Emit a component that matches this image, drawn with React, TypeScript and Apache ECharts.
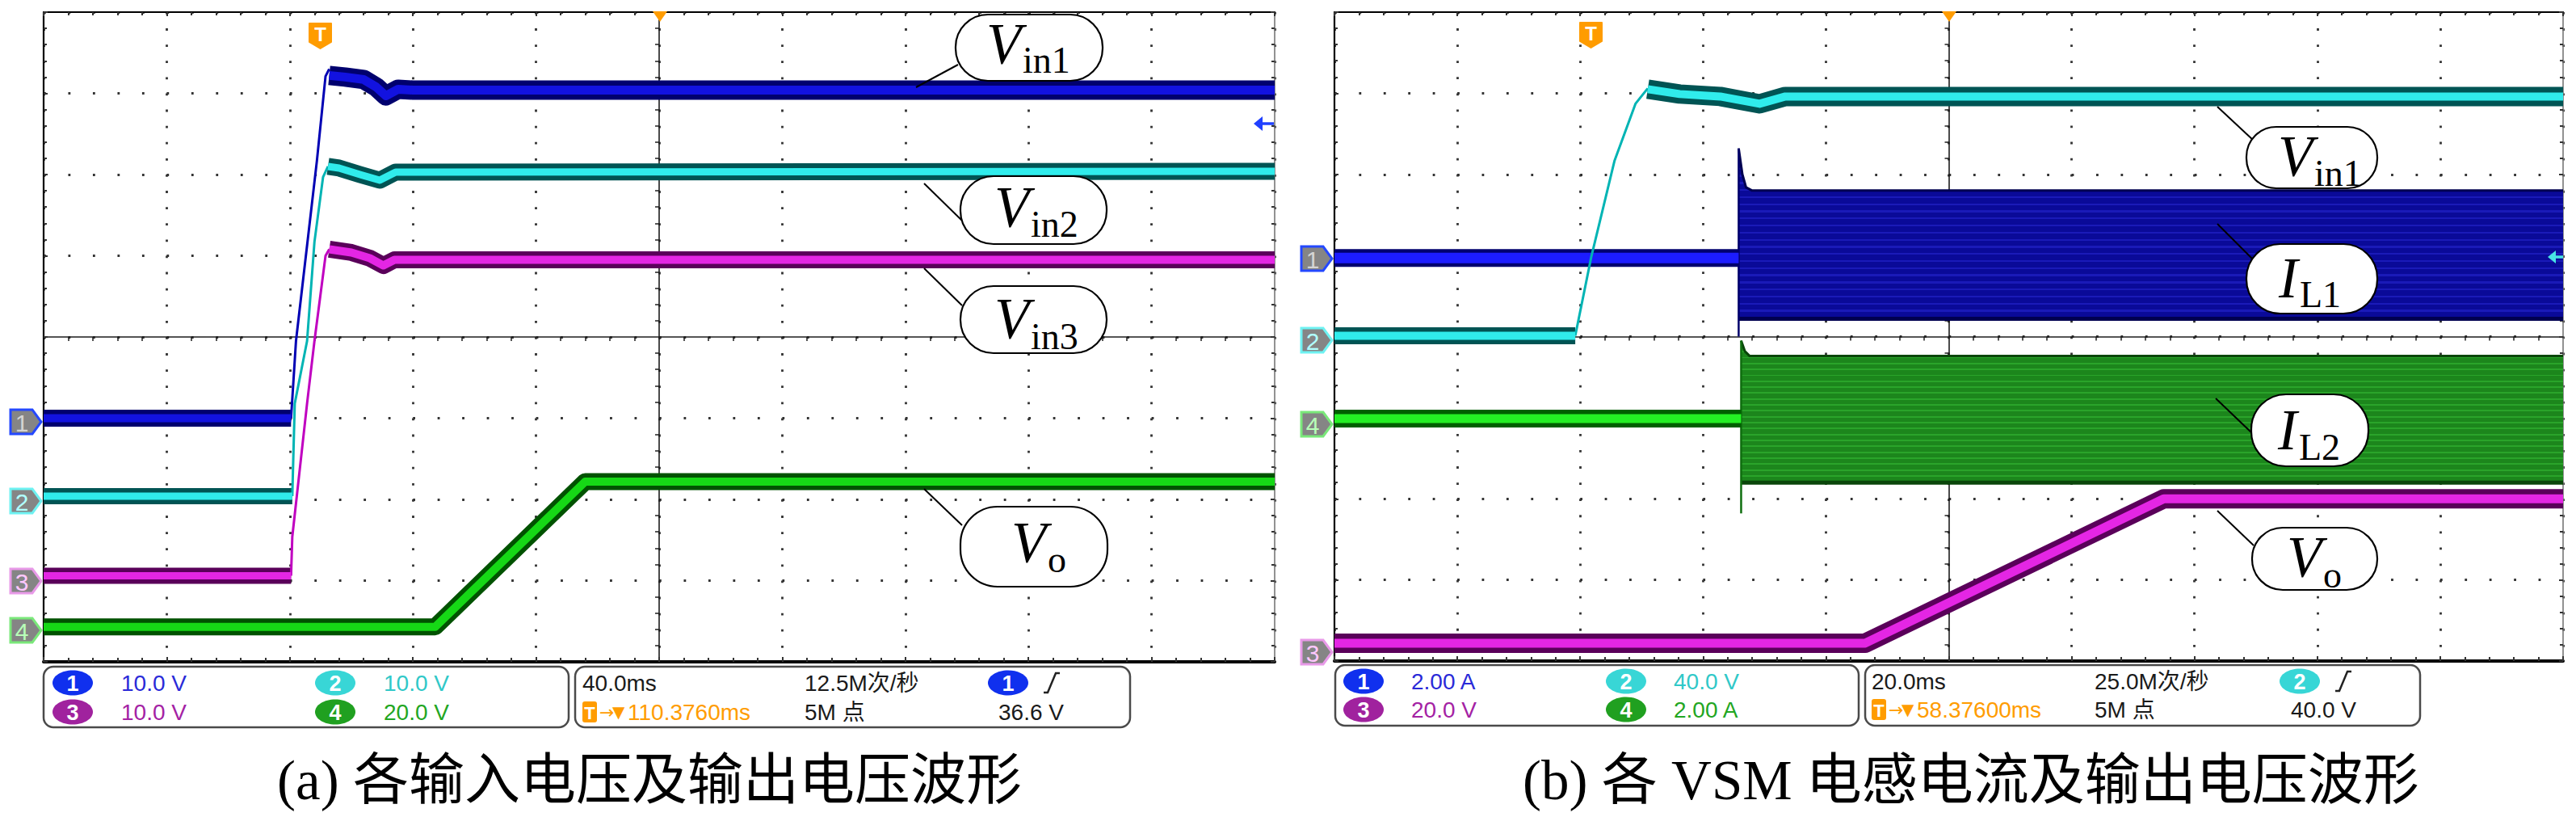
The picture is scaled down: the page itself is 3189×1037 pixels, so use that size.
import React, { useEffect, useRef } from "react";
import * as echarts from "echarts";

const WIDTH = 3189;
const HEIGHT = 1037;

// ---------- Panel (a): input voltages and output voltage (x, y in scope divisions) ----------
const A_VIN1_FLAT0 = [[-5, -1.0], [-2.99, -1.0]];
const A_VIN1_RISE = [[-2.99, -1.0], [-2.95, -0.05], [-2.78, 2.17], [-2.71, 3.21], [-2.68, 3.3]];
const A_VIN1_SETTLE = [[-2.68, 3.22], [-2.55, 3.2], [-2.4, 3.17], [-2.3, 3.08], [-2.22, 2.97], [-2.12, 3.05], [-2.0, 3.04], [5, 3.04]];
const A_VIN2_FLAT0 = [[-5, -1.96], [-2.98, -1.96]];
const A_VIN2_RISE = [[-2.98, -1.96], [-2.96, -0.82], [-2.86, -0.05], [-2.8, 1.17], [-2.73, 1.97], [-2.69, 2.1]];
const A_VIN2_SETTLE = [[-2.69, 2.1], [-2.6, 2.08], [-2.43, 2.0], [-2.27, 1.93], [-2.14, 2.03], [5, 2.04]];
const A_VIN3_FLAT0 = [[-5, -2.94], [-2.99, -2.94]];
const A_VIN3_RISE = [[-2.99, -2.94], [-2.98, -2.46], [-2.86, -0.82], [-2.8, -0.05], [-2.71, 1.0], [-2.68, 1.08]];
const A_VIN3_SETTLE = [[-2.68, 1.08], [-2.5, 1.04], [-2.35, 0.97], [-2.24, 0.88], [-2.15, 0.95], [5, 0.95]];
const A_VO = [[-5, -3.57], [-1.82, -3.57], [-0.6, -1.78], [5, -1.78]];

// ---------- Panel (b): VSM inductor currents and output voltage ----------
const B_VIN1_FLAT0 = [[-5, 0.01], [-3.04, 0.01]];
const B_VIN1_RISE = [[-3.04, 0.01], [-2.91, 0.98], [-2.72, 2.17], [-2.55, 2.87], [-2.45, 3.06]];
const B_VIN1_SETTLE = [[-2.45, 3.05], [-2.19, 2.99], [-1.86, 2.96], [-1.54, 2.87], [-1.33, 2.96], [5, 2.96]];
const B_IL1_IDLE = [[-5, 0.97], [-1.71, 0.97]];
const B_IL1_SPIKE = [[-1.71, 2.32], [-1.71, -0.0]];
const B_IL1_UPPER = [[-1.71, 2.32], [-1.68, 2.0], [-1.65, 1.84], [-1.6, 1.8], [5, 1.8]];
const B_IL1_LOWER = [[-1.71, 0.22], [5, 0.22]];
const B_IL1_FLOOR = 0.22;
const B_IL2_IDLE = [[-5, -1.01], [-1.69, -1.01]];
const B_IL2_SPIKE = [[-1.69, -0.05], [-1.69, -2.18]];
const B_IL2_UPPER = [[-1.69, -0.05], [-1.66, -0.18], [-1.62, -0.24], [5, -0.24]];
const B_IL2_LOWER = [[-1.69, -1.8], [5, -1.8]];
const B_IL2_FLOOR = -1.8;
const B_VO = [[-5, -3.78], [-0.68, -3.78], [1.75, -2.0], [5, -2.0]];

// ---------- Scope readouts ----------
const A_CH_SCALES = ["10.0 V", "10.0 V", "10.0 V", "20.0 V"];
const A_TIMEBASE = "40.0ms";
const A_TRIG_POS = "110.3760ms";
const A_RATE = "12.5M次/秒";
const A_POINTS = "5M 点";
const A_TRIG_CH = "1";
const A_TRIG_LEVEL = "36.6 V";
const B_CH_SCALES = ["2.00 A", "40.0 V", "20.0 V", "2.00 A"];
const B_TIMEBASE = "20.0ms";
const B_TRIG_POS = "58.37600ms";
const B_RATE = "25.0M次/秒";
const B_POINTS = "5M 点";
const B_TRIG_CH = "2";
const B_TRIG_LEVEL = "40.0 V";
const CAPTION_A = "(a) 各输入电压及输出电压波形";
const CAPTION_B = "(b) 各 VSM 电感电流及输出电压波形";

const CH = {
  1: { dark: "#00006e", bright: "#1212e0", thin: "#0000b4", badge: "#1030ee", text: "#2a2ad8", mark: "#2448ff", digit: "#d4d4d4" },
  2: { dark: "#005454", bright: "#30ecec", thin: "#00b4b4", badge: "#38d6d6", text: "#30c8c8", mark: "#6ef2f2", digit: "#b0ffff" },
  3: { dark: "#5a005a", bright: "#e426e4", thin: "#c000c0", badge: "#a0229e", text: "#a422a4", mark: "#e89ae8", digit: "#ffc8ff" },
  4: { dark: "#005200", bright: "#16d816", thin: "#0a9a0a", badge: "#20a020", text: "#22a622", mark: "#7ae87a", digit: "#b8ffb8" },
};

const GRIDS = [
  { left: 54, top: 15, width: 1524, height: 804 },
  { left: 1652, top: 15, width: 1521, height: 803 },
];

const SANS = '"Liberation Sans", "Noto Sans CJK SC", sans-serif';
const SERIF = '"Liberation Serif", "Noto Sans CJK SC", serif';

function stripes(dark: string, light: string, n: number) {
  const stops: any[] = [];
  for (let i = 0; i < n; i++) {
    const a = i / n, b = (i + 0.74) / n, c = (i + 1) / n;
    stops.push({ offset: a, color: dark }, { offset: b, color: dark }, { offset: b, color: light }, { offset: c, color: light });
  }
  return new echarts.graphic.LinearGradient(0, 0, 0, 1, stops);
}

function buildAxes() {
  const xAxis: any[] = [];
  const yAxis: any[] = [];
  GRIDS.forEach((g, gi) => {
    const stepY = g.height / 40;
    const stepX = g.width / 50;
    const base = { gridIndex: gi, type: "value", axisLabel: { show: false } };
    xAxis.push({
      ...base, min: -5, max: 5, interval: 1, position: "bottom",
      axisLine: { show: true, onZero: true, lineStyle: { color: "#1c1c1c", width: 1.6 } },
      axisTick: { show: false },
      minorTick: { show: true, splitNumber: 5, length: 5, lineStyle: { color: "#1c1c1c", width: 1.5 } },
      splitLine: { show: true, lineStyle: { color: "#333", width: 2.8, type: [2.8, stepY - 2.8], cap: "butt" } },
    });
    xAxis.push({
      ...base, min: -5, max: 5, interval: 1, position: "top", offset: 0,
      axisLine: { show: true, onZero: false, lineStyle: { color: "#000", width: 2.2 } },
      axisTick: { show: true, inside: true, length: 5, lineStyle: { color: "#333", width: 2 } },
      minorTick: { show: true, splitNumber: 5, length: 4, lineStyle: { color: "#333", width: 2 } },
      splitLine: { show: false },
    });
    xAxis.push({
      ...base, min: -5, max: 5, interval: 1, position: "bottom", offset: 0,
      axisLine: { show: true, onZero: false, lineStyle: { color: "#000", width: 4 } },
      axisTick: { show: true, inside: true, length: 6, lineStyle: { color: "#333", width: 2 } },
      minorTick: { show: true, splitNumber: 5, length: 5, lineStyle: { color: "#333", width: 2 } },
      splitLine: { show: false },
    });
    yAxis.push({
      ...base, min: -4, max: 4, interval: 1, position: "left",
      axisLine: { show: true, onZero: true, lineStyle: { color: "#1c1c1c", width: 1.6 } },
      axisTick: { show: false },
      minorTick: { show: true, splitNumber: 5, length: 5, lineStyle: { color: "#1c1c1c", width: 1.5 } },
      splitLine: { show: true, lineStyle: { color: "#333", width: 2.8, type: [2.8, stepX - 2.8], cap: "butt" } },
    });
    yAxis.push({
      ...base, min: -4, max: 4, interval: 1, position: "left", offset: 0,
      axisLine: { show: true, onZero: false, lineStyle: { color: "#000", width: 2.2 } },
      axisTick: { show: true, inside: true, length: 5, lineStyle: { color: "#333", width: 2 } },
      minorTick: { show: true, splitNumber: 5, length: 4, lineStyle: { color: "#333", width: 2 } },
      splitLine: { show: false },
    });
    yAxis.push({
      ...base, min: -4, max: 4, interval: 1, position: "right", offset: 0,
      axisLine: { show: true, onZero: false, lineStyle: { color: "#777", width: 1.6 } },
      axisTick: { show: true, inside: true, length: 5, lineStyle: { color: "#333", width: 2 } },
      minorTick: { show: true, splitNumber: 5, length: 4, lineStyle: { color: "#333", width: 2 } },
      splitLine: { show: false },
    });
  });
  return { xAxis, yAxis };
}

function lineSeries(data: number[][], gi: number, color: any, width: number, z: number, extra: any = {}) {
  return {
    type: "line", xAxisIndex: gi * 3, yAxisIndex: gi * 3, data, symbol: "none", showSymbol: false,
    silent: true, z, lineStyle: { color, width, cap: "butt", join: "round" }, ...extra,
  };
}
function band(data: number[][], gi: number, c: any, wOuter: number, wInner: number, z: number) {
  return [lineSeries(data, gi, c.dark, wOuter, z), lineSeries(data, gi, c.bright, wInner, z + 0.5)];
}

function buildSeries() {
  const s: any[] = [];
  // panel a
  s.push(...band(A_VO, 0, CH[4], 21, 10, 2));
  s.push(...band(A_VIN3_FLAT0, 0, CH[3], 20, 9, 3), lineSeries(A_VIN3_RISE, 0, CH[3].thin, 3, 3));
  s.push(...band(A_VIN3_SETTLE, 0, CH[3], 21, 10, 3));
  s.push(...band(A_VIN2_FLAT0, 0, CH[2], 20, 9, 4), lineSeries(A_VIN2_RISE, 0, CH[2].thin, 3, 4));
  s.push(...band(A_VIN2_SETTLE, 0, CH[2], 21, 9, 4));
  s.push(...band(A_VIN1_FLAT0, 0, CH[1], 21, 10, 5), lineSeries(A_VIN1_RISE, 0, CH[1].thin, 3, 5));
  s.push(...band(A_VIN1_SETTLE, 0, CH[1], 24, 11, 5));
  // panel b
  s.push(lineSeries(B_IL1_UPPER, 1, "#000050", 3, 2, { areaStyle: { color: stripes("#0a0a98", "#1a1ab8", 24), opacity: 1, origin: B_IL1_FLOOR } }));
  s.push(lineSeries(B_IL1_LOWER, 1, "#000050", 5, 2.2));
  s.push(lineSeries(B_IL1_SPIKE, 1, "#00006a", 2.5, 2.3));
  s.push(...band(B_IL1_IDLE, 1, { dark: "#00006e", bright: "#1c1cff" }, 22, 13, 2.4));
  s.push(lineSeries(B_IL2_UPPER, 1, "#0a460a", 3, 2, { areaStyle: { color: stripes("#1c861c", "#2aa42a", 24), opacity: 1, origin: B_IL2_FLOOR } }));
  s.push(lineSeries(B_IL2_LOWER, 1, "#0a460a", 5, 2.2));
  s.push(lineSeries(B_IL2_SPIKE, 1, "#0e6e0e", 2.5, 2.3));
  s.push(...band(B_IL2_IDLE, 1, { dark: "#006000", bright: "#24f024" }, 22, 11, 2.4));
  s.push(...band(B_VO, 1, CH[3], 24, 11, 3));
  s.push(...band(B_VIN1_FLAT0, 1, CH[2], 21, 10, 4), lineSeries(B_VIN1_RISE, 1, CH[2].thin, 3, 4));
  s.push(...band(B_VIN1_SETTLE, 1, CH[2], 24, 10, 4));
  return s;
}

function text(x: number, y: number, t: string, font: string, fill: string, align = "left", z = 20) {
  return {
    type: "text", x: 0, y: 0, z, silent: true,
    style: { text: t, x, y, font, fill, textAlign: align, align, textVerticalAlign: "middle", verticalAlign: "middle" },
  };
}

function labelBox(b: any) {
  const els: any[] = [];
  els.push({ type: "line", z: 18, silent: true, shape: { x1: b.lx1, y1: b.ly1, x2: b.lx2, y2: b.ly2 }, style: { stroke: "#000", lineWidth: 2 } });
  els.push({ type: "rect", z: 19, silent: true, shape: { x: b.x, y: b.y, width: b.w, height: b.h, r: b.r }, style: { fill: "#fff", stroke: "#000", lineWidth: 2.2 } });
  const vw = b.main === "V" ? 44 : 25;
  els.push(text(b.mx, b.my, b.main, 'italic 71px "Liberation Serif", serif', "#000"));
  els.push(text(b.mx + vw + 1, b.sy, b.sub, '46px "Liberation Serif", serif', "#000"));
  return els;
}

const LABELS = [
  { x: 1183, y: 18, w: 182, h: 82, r: 40, main: "V", sub: "in1", mx: 1221, my: 54, sy: 74, lx1: 1186, ly1: 80, lx2: 1134, ly2: 108 },
  { x: 1189, y: 218, w: 181, h: 84, r: 41, main: "V", sub: "in2", mx: 1231, my: 256, sy: 277, lx1: 1191, ly1: 273, lx2: 1144, ly2: 227 },
  { x: 1189, y: 354, w: 181, h: 83, r: 41, main: "V", sub: "in3", mx: 1231, my: 394, sy: 416, lx1: 1191, ly1: 378, lx2: 1144, ly2: 332 },
  { x: 1189, y: 627, w: 182, h: 99, r: 46, main: "V", sub: "o", mx: 1252, my: 671, sy: 692, lx1: 1191, ly1: 650, lx2: 1144, ly2: 605 },
  { x: 2781, y: 157, w: 162, h: 76, r: 37, main: "V", sub: "in1", mx: 2820, my: 193, sy: 214, lx1: 2790, ly1: 174, lx2: 2745, ly2: 132 },
  { x: 2781, y: 302, w: 162, h: 86, r: 42, main: "I", sub: "L1", mx: 2821, my: 344, sy: 364, lx1: 2790, ly1: 322, lx2: 2745, ly2: 277 },
  { x: 2787, y: 488, w: 145, h: 89, r: 43, main: "I", sub: "L2", mx: 2820, my: 532, sy: 553, lx1: 2789, ly1: 537, lx2: 2743, ly2: 493 },
  { x: 2788, y: 653, w: 155, h: 77, r: 38, main: "V", sub: "o", mx: 2831, my: 689, sy: 711, lx1: 2790, ly1: 675, lx2: 2745, ly2: 632 },
];

function chMarker(x0: number, y: number, ch: number) {
  const c = (CH as any)[ch];
  return [
    { type: "polygon", z: 20, silent: true, shape: { points: [[x0, y - 15], [x0 + 27, y - 15], [x0 + 38, y], [x0 + 27, y + 15], [x0, y + 15]] }, style: { fill: "#858585", stroke: c.mark, lineWidth: 3 } },
    text(x0 + 14, y + 1, String(ch), '30px "Liberation Sans", sans-serif', c.digit, "center", 21),
  ];
}

function trigIcon(x: number, y: number) {
  return [
    { type: "polygon", z: 20, silent: true, shape: { points: [[x, y], [x + 27, y], [x + 27, y + 23], [x + 13.5, y + 31], [x, y + 23]] }, style: { fill: "#ff9c00", stroke: "#ff9c00", lineWidth: 2, lineJoin: "round" } },
    text(x + 13.5, y + 13, "T", 'bold 24px "Liberation Sans", sans-serif', "#fff", "center", 21),
  ];
}

function badge(cx: number, cy: number, ch: number | string) {
  const c = (CH as any)[Number(ch)];
  return [
    { type: "ellipse", z: 20, silent: true, shape: { cx, cy, rx: 25, ry: 15.5 }, style: { fill: c.badge } },
    text(cx, cy + 1, String(ch), 'bold 27px "Liberation Sans", sans-serif', "#fff", "center", 21),
  ];
}

function edgeIcon(x: number, y: number) {
  return { type: "polyline", z: 20, silent: true, shape: { points: [[x, y + 12], [x + 5, y + 12], [x + 15, y - 12], [x + 20, y - 12]] }, style: { stroke: "#222", lineWidth: 2.5, fill: "none" } };
}

function infoPanel(o: any) {
  const els: any[] = [];
  const f = '28px ' + SANS;
  els.push({ type: "rect", z: 15, silent: true, shape: { x: o.b1x, y: o.by, width: o.b1w, height: 75, r: 12 }, style: { fill: "#fff", stroke: "#4a4a4a", lineWidth: 2.5 } });
  els.push({ type: "rect", z: 15, silent: true, shape: { x: o.b2x, y: o.by, width: o.b2w, height: 75, r: 12 }, style: { fill: "#fff", stroke: "#4a4a4a", lineWidth: 2.5 } });
  const pos = [[o.c1, o.r1], [o.c2, o.r1], [o.c1, o.r2], [o.c2, o.r2]];
  [1, 2, 3, 4].forEach((ch, i) => {
    const [cx, cy] = pos[i];
    els.push(...badge(cx, cy, ch));
    els.push(text(cx + o.tdx, cy, o.scales[ch - 1], f, (CH as any)[ch].text));
  });
  els.push(text(o.tx, o.r1, o.timebase, f, "#1a1a1a"));
  els.push({ type: "rect", z: 20, silent: true, shape: { x: o.tx, y: o.r2 - 13, width: 18, height: 26, r: 3 }, style: { fill: "#ff9c00" } });
  els.push(text(o.tx + 9, o.r2 + 1, "T", 'bold 22px "Liberation Sans", sans-serif', "#fff", "center", 21));
  els.push(text(o.tx + 21, o.r2, "→", '22px "DejaVu Sans", sans-serif', "#ff9c00"));
  els.push(text(o.tx + 37, o.r2, "▼", '20px "DejaVu Sans", sans-serif', "#ff9c00"));
  els.push(text(o.tx + 56, o.r2, o.trigPos, f, "#ff9c00"));
  els.push(text(o.rx, o.r1, o.rate, f, "#1a1a1a"));
  els.push(text(o.rx, o.r2, o.points, f, "#1a1a1a"));
  els.push(...badge(o.bx, o.r1, o.trigCh));
  els.push(edgeIcon(o.bx + 44, o.r1));
  els.push(text(o.lx, o.r2, o.level, f, "#1a1a1a"));
  return els;
}

function buildGraphic() {
  const els: any[] = [];
  LABELS.forEach((b) => els.push(...labelBox(b)));
  // channel ground markers
  els.push(...chMarker(13, 522, 1), ...chMarker(13, 620, 2), ...chMarker(13, 719, 3), ...chMarker(13, 780, 4));
  els.push(...chMarker(1611, 320, 1), ...chMarker(1611, 421, 2), ...chMarker(1611, 525, 4), ...chMarker(1611, 807, 3));
  // trigger icons
  els.push(...trigIcon(383, 29), ...trigIcon(1956, 28));
  // trigger position triangles
  els.push({ type: "polygon", z: 20, silent: true, shape: { points: [[808, 14], [826, 14], [817, 27]] }, style: { fill: "#ff9c00" } });
  els.push({ type: "polygon", z: 20, silent: true, shape: { points: [[2404, 14], [2422, 14], [2413, 27]] }, style: { fill: "#ff9c00" } });
  // trigger level arrows
  els.push({ type: "polygon", z: 20, silent: true, shape: { points: [[1552, 153], [1563, 144], [1563, 162]] }, style: { fill: "#2040ff" } });
  els.push({ type: "line", z: 20, silent: true, shape: { x1: 1562, y1: 153, x2: 1577, y2: 153 }, style: { stroke: "#2040ff", lineWidth: 3.5 } });
  els.push({ type: "polygon", z: 20, silent: true, shape: { points: [[3154, 318], [3164, 310], [3164, 326]] }, style: { fill: "#48e4e4" } });
  els.push({ type: "line", z: 20, silent: true, shape: { x1: 3163, y1: 318, x2: 3173, y2: 318 }, style: { stroke: "#48e4e4", lineWidth: 3.5 } });
  // readouts
  els.push(...infoPanel({
    b1x: 54, b1w: 650, b2x: 712, b2w: 687, by: 825, r1: 845, r2: 881, c1: 90, c2: 415, tdx: 60,
    scales: A_CH_SCALES, tx: 721, timebase: A_TIMEBASE, trigPos: A_TRIG_POS, rx: 996, rate: A_RATE, points: A_POINTS,
    bx: 1248, trigCh: A_TRIG_CH, lx: 1236, level: A_TRIG_LEVEL,
  }));
  els.push(...infoPanel({
    b1x: 1653, b1w: 648, b2x: 2309, b2w: 687, by: 823, r1: 843, r2: 878, c1: 1688, c2: 2013, tdx: 59,
    scales: B_CH_SCALES, tx: 2317, timebase: B_TIMEBASE, trigPos: B_TRIG_POS, rx: 2593, rate: B_RATE, points: B_POINTS,
    bx: 2847, trigCh: B_TRIG_CH, lx: 2836, level: B_TRIG_LEVEL,
  }));
  // captions
  els.push(text(804, 966, CAPTION_A, "69px " + SERIF, "#000", "center"));
  els.push(text(2440, 966, CAPTION_B, "69px " + SERIF, "#000", "center"));
  return els;
}

export default function App() {
  const ref = useRef<HTMLDivElement>(null);
  useEffect(() => {
    if (!ref.current) return;
    const chart = echarts.init(ref.current, undefined, { renderer: "svg", width: WIDTH, height: HEIGHT });
    const { xAxis, yAxis } = buildAxes();
    chart.setOption({
      animation: false,
      backgroundColor: "#ffffff",
      grid: GRIDS.map((g) => ({ ...g, containLabel: false, show: false })),
      xAxis,
      yAxis,
      series: buildSeries(),
      graphic: { elements: buildGraphic() },
    });
    return () => chart.dispose();
  }, []);
  return <div ref={ref} style={{ position: "fixed", left: 0, top: 0, width: WIDTH, height: HEIGHT, background: "#fff" }} />;
}
